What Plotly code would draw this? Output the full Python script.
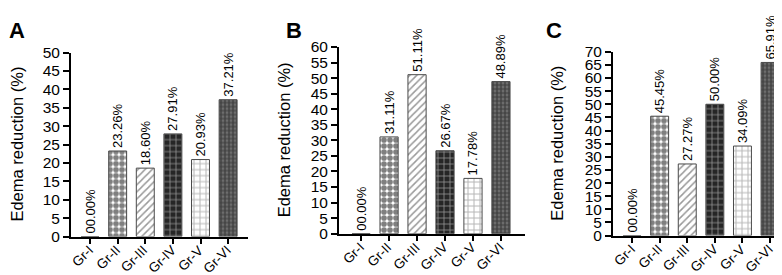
import plotly.graph_objects as go

groups = ["Gr-I", "Gr-II", "Gr-III", "Gr-IV", "Gr-V", "Gr-VI"]
values_a = [0.00, 23.26, 18.60, 27.91, 20.93, 37.21]
values_b = [0.00, 31.11, 51.11, 26.67, 17.78, 48.89]
values_c = [0.00, 45.45, 27.27, 50.00, 34.09, 65.91]
panel_labels = ["A", "B", "C"]
y_max = [50, 60, 70]
y_title = "Edema reduction (%)"

FONT = "Liberation Sans, Arial, sans-serif"

patterns = [
    dict(shape="", bgcolor="white"),
    dict(shape=".", fgcolor="#000000", bgcolor="white", size=6, solidity=0.7, fillmode="overlay"),
    dict(shape="/", fgcolor="#333333", bgcolor="white", size=5, solidity=0.3, fillmode="overlay"),
    dict(shape="+", fgcolor="white", bgcolor="#262626", size=6, solidity=0.25, fillmode="overlay"),
    dict(shape="+", fgcolor="#6a6a6a", bgcolor="white", size=6, solidity=0.3, fillmode="overlay"),
    dict(shape=".", fgcolor="#111111", bgcolor="#7a7a7a", size=4, solidity=0.7, fillmode="overlay"),
]

fig = go.Figure()

x_domains = [[63/782, 240/782], [331/782, 517/782], [605/782, 780/782]]
axis_bottom_px = [234, 231, 233]
axis_top_px = [38, 32, 37]
y_domains = [[1 - b/275, 1 - t/275] for b, t in zip(axis_bottom_px, axis_top_px)]
x_ranges = [[-0.69, 5.72], [-0.79, 5.86], [-0.69, 5.65]]
title_x = [9/782, 276/782, 549/782]
label_x = [0/782, 277/782, 537/782]

all_values = [values_a, values_b, values_c]

for i, vals in enumerate(all_values):
    sfx = "" if i == 0 else str(i + 1)
    for j, (g, v) in enumerate(zip(groups, vals)):
        fig.add_trace(go.Bar(
            x=[g], y=[v],
            xaxis="x" + sfx, yaxis="y" + sfx,
            width=0.65,
            marker=dict(color="white", pattern=patterns[j],
                        line=dict(color="#4a4a4a", width=1)),
            text=[f"{v:05.2f}%"],
            textposition="outside",
            textangle=-90,
            constraintext="none",
            cliponaxis=False,
            textfont=dict(family=FONT, size=13, color="black"),
            showlegend=False,
            hoverinfo="skip",
        ))
        fig.add_annotation(text=g, textangle=-45, xref="x" + sfx, yref="paper",
                           x=g, y=1 - (axis_bottom_px[i] + 5) / 275,
                           xanchor="right", yanchor="top", xshift=7,
                           showarrow=False, borderpad=0,
                           font=dict(family=FONT, size=13.5, color="black"))
    xa = dict(domain=x_domains[i], range=x_ranges[i], type="category",
              categoryorder="array", categoryarray=groups,
              showline=True, linecolor="black", linewidth=2,
              ticks="outside", ticklen=5, tickwidth=2, tickcolor="black",
              showticklabels=False, showgrid=False, zeroline=False,
              anchor="y" + sfx)
    ya = dict(domain=y_domains[i], range=[0, y_max[i]], dtick=5,
              showline=True, linecolor="black", linewidth=2,
              ticks="outside", ticklen=6, tickwidth=2, tickcolor="black",
              showgrid=False, zeroline=False,
              tickfont=dict(family=FONT, size=15.5, color="black"),
              anchor="x" + sfx)
    fig.update_layout(**{"xaxis" + sfx: xa, "yaxis" + sfx: ya})
    fig.add_annotation(text=y_title, textangle=-90, xref="paper", yref="paper",
                       x=title_x[i], y=(y_domains[i][0] + y_domains[i][1]) / 2,
                       xanchor="center", yanchor="middle", showarrow=False,
                       font=dict(family=FONT, size=16.5, color="black"))
    fig.add_annotation(text="<b>" + panel_labels[i] + "</b>", xref="paper", yref="paper",
                       x=label_x[i], y=1, xanchor="left", yanchor="top",
                       showarrow=False, borderpad=0,
                       font=dict(family=FONT, size=22, color="black"))

fig.update_layout(width=782, height=275, margin=dict(l=0, r=0, t=0, b=0),
                  plot_bgcolor="white", paper_bgcolor="white", barmode="overlay",
                  bargap=0.35)

fig.write_html("out.html")
